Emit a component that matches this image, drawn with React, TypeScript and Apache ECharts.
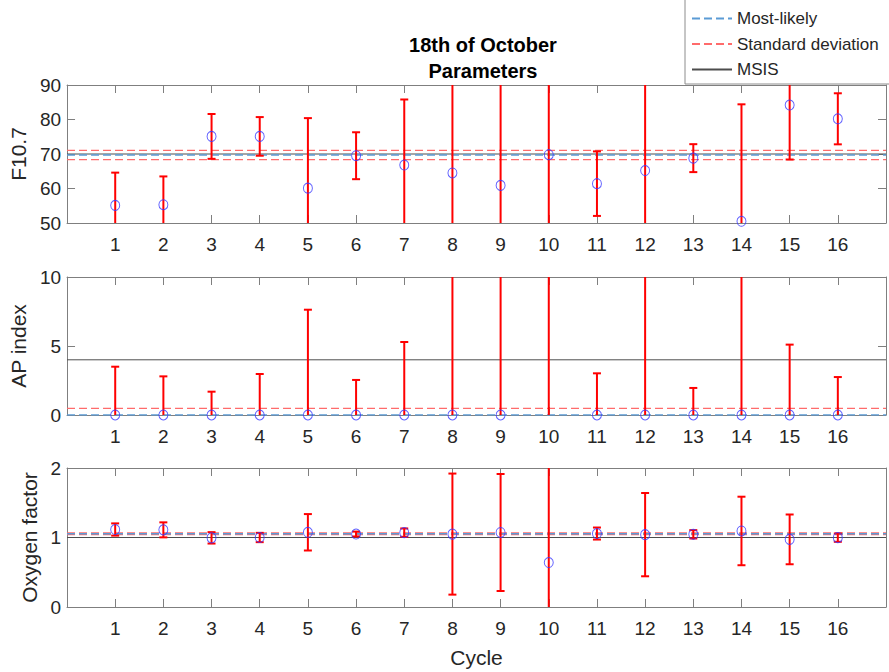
import React, { useEffect, useRef } from "react";
import * as echarts from "echarts";

// ---- data ----
const cycles = [1, 2, 3, 4, 5, 6, 7, 8, 9, 10, 11, 12, 13, 14, 15, 16];

const f107Value = [55.1, 55.3, 75.1, 75.1, 60.1, 69.5, 66.8, 64.5, 60.9, 69.8, 61.4, 65.2, 68.8, 50.5, 84.2, 80.2];
const f107Err = [9.5, 8.2, 6.5, 5.6, 20.3, 6.8, 19.0, 40, 45, 35, 9.35, 40, 4.05, 33.9, 15.8, 7.4];

const apValue = [0, 0, 0, 0, 0, 0, 0, 0, 0, 12, 0, 0, 0, 0, 0, 0];
const apErr = [3.5, 2.8, 1.69, 2.97, 7.63, 2.54, 5.29, 15, 16, 14, 3.02, 15, 1.96, 14, 5.1, 2.75];

const oxValue = [1.115, 1.11, 0.995, 1.0, 1.075, 1.05, 1.07, 1.049, 1.072, 0.64, 1.057, 1.041, 1.046, 1.094, 0.973, 0.998];
const oxErr = [0.088, 0.108, 0.082, 0.067, 0.262, 0.035, 0.06, 0.871, 0.842, 1.6, 0.0865, 0.599, 0.06, 0.493, 0.358, 0.06];

const panelNames = ["F10.7", "AP index", "Oxygen factor"];
const yMin = [50, 0, 0];
const yMax = [90, 10, 2];
const yInterval = [10, 5, 1];
const msis = [70, 4, 1];
const mostLikely = [69.7, 0, 1.053];
const stdDev = [1.35, 0.48, 0.013];

const xMin = 0;
const xMax = 17;

const FONT = "'Liberation Sans', Arial, Helvetica, sans-serif";
const AXIS_COLOR = "#7f7f7f";
const TEXT_COLOR = "#262626";

const App: React.FC = () => {
  const ref = useRef<HTMLDivElement>(null);

  useEffect(() => {
    document.body.style.margin = "0";
    if (!ref.current) return;
    const chart = echarts.init(ref.current, undefined, { renderer: "svg" });

    const values = [f107Value, apValue, oxValue];
    const errs = [f107Err, apErr, oxErr];
    const tops = [85, 277, 468];
    const heights = [138, 138, 139];
    const nameGaps = [36, 36, 26];

    const grid = tops.map((t, i) => ({ left: 67, width: 827, top: t, height: heights[i] }));

    const xAxis: any[] = [];
    const yAxis: any[] = [];
    const series: any[] = [];

    for (let i = 0; i < 3; i++) {
      const common = {
        gridIndex: i,
        type: "value",
        min: xMin,
        max: xMax,
        interval: 1,
        splitLine: { show: false },
        axisLine: { show: true, onZero: false, lineStyle: { color: AXIS_COLOR, width: 1 } },
        axisTick: { show: true, inside: true, length: 8, lineStyle: { color: AXIS_COLOR } },
      };
      xAxis.push({
        ...common,
        position: "bottom",
        axisLabel: {
          show: true,
          fontSize: 19,
          color: TEXT_COLOR,
          fontFamily: FONT,
          margin: 12,
          formatter: (v: number) => (cycles.indexOf(v) >= 0 ? String(v) : ""),
        },
        ...(i === 2
          ? {
              name: "Cycle",
              nameLocation: "middle",
              nameGap: 40,
              nameTextStyle: { fontSize: 21, color: TEXT_COLOR, fontFamily: FONT },
            }
          : {}),
      });
      xAxis.push({ ...common, position: "top", axisLabel: { show: false } });

      const ycommon = {
        gridIndex: i,
        type: "value",
        min: yMin[i],
        max: yMax[i],
        interval: yInterval[i],
        splitLine: { show: false },
        axisLine: { show: true, onZero: false, lineStyle: { color: AXIS_COLOR, width: 1 } },
        axisTick: { show: true, inside: true, length: 8, lineStyle: { color: AXIS_COLOR } },
      };
      yAxis.push({
        ...ycommon,
        position: "left",
        axisLabel: { show: true, fontSize: 19, color: TEXT_COLOR, fontFamily: FONT, margin: 6 },
        name: panelNames[i],
        nameLocation: "middle",
        nameRotate: 90,
        nameGap: nameGaps[i],
        nameTextStyle: { fontSize: 21, color: TEXT_COLOR, fontFamily: FONT },
      });
      yAxis.push({ ...ycommon, position: "right", axisLabel: { show: false } });

      const xi = 2 * i;
      const yi = 2 * i;

      const hline = (name: string, val: number, color: string, type: any, width: number, z: number) => ({
        name,
        type: "line",
        xAxisIndex: xi,
        yAxisIndex: yi,
        data: [
          [xMin, val],
          [xMax, val],
        ],
        symbol: "none",
        showSymbol: false,
        silent: true,
        clip: true,
        z,
        lineStyle: { color, type, width },
        itemStyle: { color },
      });

      series.push(hline("MSIS", msis[i], "#4d4d4d", "solid", 1, 2));
      series.push(hline("Standard deviation", mostLikely[i] + stdDev[i], "#ff6b6b", [8, 4], 1.3, 3));
      series.push(hline("Standard deviation", mostLikely[i] - stdDev[i], "#ff6b6b", [8, 4], 1.3, 3));
      series.push(hline("Most-likely", mostLikely[i], "#5b9bd5", [8, 4], 1.5, 3));

      const v = values[i];
      const e = errs[i];
      series.push({
        type: "custom",
        xAxisIndex: xi,
        yAxisIndex: yi,
        clip: true,
        z: 5,
        silent: true,
        data: cycles.map((c, j) => [c, v[j] - e[j], v[j] + e[j]]),
        renderItem: (params: any, api: any) => {
          const x = api.value(0);
          const lo = api.coord([x, api.value(1)]);
          const hi = api.coord([x, api.value(2)]);
          const cap = 4;
          const style = { stroke: "#ff0000", lineWidth: 2 };
          return {
            type: "group",
            children: [
              { type: "line", shape: { x1: lo[0], y1: lo[1], x2: hi[0], y2: hi[1] }, style },
              { type: "line", shape: { x1: hi[0] - cap, y1: hi[1], x2: hi[0] + cap, y2: hi[1] }, style },
              { type: "line", shape: { x1: lo[0] - cap, y1: lo[1], x2: lo[0] + cap, y2: lo[1] }, style },
            ],
          };
        },
      });

      series.push({
        type: "scatter",
        xAxisIndex: xi,
        yAxisIndex: yi,
        z: 6,
        silent: true,
        clip: false,
        symbol: "circle",
        symbolSize: [9, 10],
        itemStyle: { color: "rgba(0,0,0,0)", borderColor: "#3a3aff", borderWidth: 1 },
        data: cycles
          .map((c, j) => [c, v[j]])
          .filter((p) => p[1] >= yMin[i] && p[1] <= yMax[i]),
      });
    }

    chart.setOption({
      animation: false,
      backgroundColor: "#ffffff",
      textStyle: { fontFamily: FONT },
      title: {
        text: "18th of October\nParameters",
        left: 483,
        top: 32,
        padding: 0,
        textAlign: "center",
        textStyle: { fontSize: 20, fontWeight: "bold", lineHeight: 26, color: "#000000", fontFamily: FONT },
      },
      legend: {
        data: ["Most-likely", "Standard deviation", "MSIS"],
        orient: "vertical",
        left: 685,
        top: -1,
        padding: [11, 12, 6, 6],
        itemWidth: 40,
        itemHeight: 14,
        itemGap: 8.5,
        selectedMode: false,
        backgroundColor: "#ffffff",
        borderColor: "#8c8c8c",
        borderWidth: 1,
        borderRadius: 0,
        itemStyle: { opacity: 0 },
        textStyle: { fontSize: 17, color: TEXT_COLOR, fontFamily: FONT },
      },
      grid,
      xAxis,
      yAxis,
      series,
    });

    return () => chart.dispose();
  }, []);

  return <div ref={ref} style={{ width: 889, height: 672 }} />;
};

export default App;
